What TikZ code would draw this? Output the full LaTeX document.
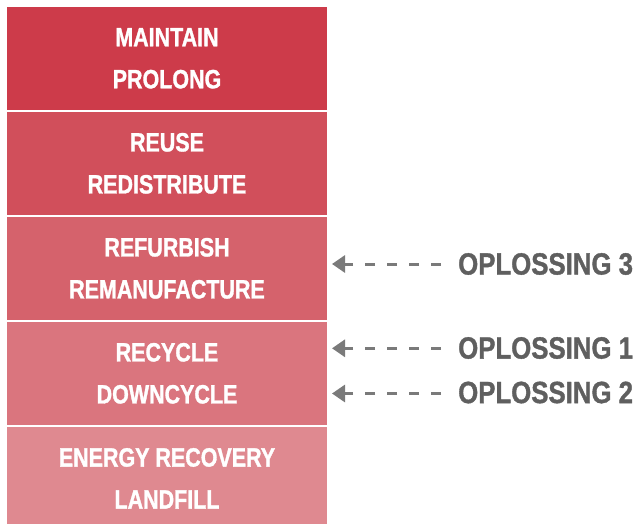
\documentclass[tikz,border=0pt]{standalone}
\usepackage{fontspec}
\setmainfont{Liberation Sans}
\newfontfamily\cfont[Extension=.ttf, UprightFont=*-Bold, FakeStretch=0.84, FakeBold=1.2]{LiberationSans}
\newfontfamily\bfont[Extension=.ttf, UprightFont=*-Bold, FakeStretch=0.81, FakeBold=1.2]{LiberationSans}
\usetikzlibrary{arrows.meta}
\definecolor{c1}{HTML}{CD3B4A}
\definecolor{c2}{HTML}{D14F5B}
\definecolor{c3}{HTML}{D5626C}
\definecolor{c4}{HTML}{DA757E}
\definecolor{c5}{HTML}{DF8990}
\definecolor{gtext}{HTML}{5F5F5F}
\definecolor{garrow}{HTML}{7A7A7A}
\tikzset{
  layer/.style={rectangle, inner sep=0pt, minimum width=320pt, minimum height=102.7pt,
    text=white, align=center, font=\bfont\fontsize{26.5}{42}\selectfont},
  sol/.style={anchor=west, inner sep=0pt, text=gtext, font=\cfont\fontsize{30.7}{36}\selectfont},
  arr/.style={draw=garrow, line width=3pt, dash pattern=on 10pt off 12pt,
    -{Triangle[length=13pt,width=17pt]}}
}
\begin{document}
\begin{tikzpicture}[x=1pt,y=-1pt]
\useasboundingbox (0,0) rectangle (635,524);
\begin{scope}
\clip (0,0) rectangle (635,524);
\node[layer, fill=c1] (b1) at (167,58.35) {MAINTAIN\\PROLONG};
\node[layer, fill=c2] (b2) at (167,163.35) {REUSE\\REDISTRIBUTE};
\node[layer, fill=c3] (b3) at (167,268.35) {REFURBISH\\REMANUFACTURE};
\node[layer, fill=c4] (b4) at (167,373.35) {RECYCLE\\DOWNCYCLE};
\node[layer, fill=c5] (b5) at (167,478.35) {ENERGY RECOVERY\\LANDFILL};
\end{scope}
\node[sol] (o3) at (458,264) {OPLOSSING 3};
\node[sol] (o1) at (458,348) {OPLOSSING 1};
\node[sol] (o2) at (458,392.5) {OPLOSSING 2};
\coordinate (t3) at (332,264);
\coordinate (t1) at (332,348.3);
\coordinate (t2) at (332,393.5);
\draw[arr] ([xshift=-17pt]o3.west |- t3) -- (t3);
\draw[arr] ([xshift=-17pt]o1.west |- t1) -- (t1);
\draw[arr] ([xshift=-17pt]o2.west |- t2) -- (t2);
\end{tikzpicture}
\end{document}
